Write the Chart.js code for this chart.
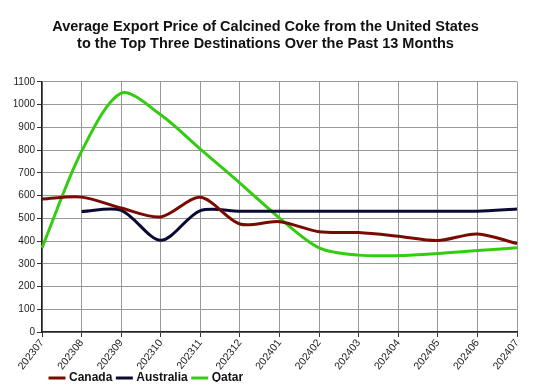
<!DOCTYPE html>
<html><head><meta charset="utf-8">
<script src="https://cdn.jsdelivr.net/npm/chart.js@4"></script>
<style>html,body{margin:0;padding:0;background:#fff}#wrap{width:550px;height:387px}</style>
</head><body><div id="wrap"><canvas id="c"></canvas></div>
<script>
const months = ["202307","202308","202309","202310","202311","202312","202401","202402","202403","202404","202405","202406","202407"];
const canada = [585,593,545,506,592,475,485,441,437,421,402,431,389];
const australia = [null,530,535,403,534,531,531,531,531,531,531,531,541];
const qatar = [370,794,1050,955,804,655,501,370,338,336,345,358,370];
const yTicks = [0,100,200,300,400,500,600,700,800,900,1000,1100];

const legendFix = {
  id:'legendFix',
  beforeLayout(chart){
    const lg = chart.legend;
    if (lg && !lg._wrapped) {
      const f = lg.fit.bind(lg);
      lg.fit = function(){ f(); this.height = 16; };
      lg._wrapped = true;
    }
  },
  beforeDraw(chart){
    const lg = chart.legend;
    if (!lg || lg._shifted) return;
    lg.left += 31; lg.right += 31; lg.top -= 5; lg.bottom -= 5;
    lg._shifted = true;
  }
};

new Chart(document.getElementById('c'), {
  type: 'line',
  data: {
    labels: months,
    datasets: [
      {label:'Canada', data:canada, borderColor:'#7a0a00', backgroundColor:'#7a0a00', borderWidth:3, pointRadius:0, tension:0.3},
      {label:'Australia', data:australia, borderColor:'#0a0a33', backgroundColor:'#0a0a33', borderWidth:3, pointRadius:0, tension:0.3},
      {label:'Qatar', data:qatar, borderColor:'#33cc11', backgroundColor:'#33cc11', borderWidth:3, pointRadius:0, tension:0.3}
    ]
  },
  options: {
    responsive:true, maintainAspectRatio:false, animation:false,
    layout:{padding:{left:14,right:33,top:0,bottom:0}},
    plugins:{
      title:{display:true, text:['Average Export Price of Calcined Coke from the United States','to the Top Three Destinations Over the Past 13 Months'],
        font:{family:'Liberation Sans', size:14.5, weight:'bold'}, color:'#111', padding:{top:18,bottom:29}, lineHeight:1.4},
      legend:{position:'bottom', align:'start',
        labels:{usePointStyle:true, pointStyle:'line', boxWidth:22, color:'#111', padding:6,
          font:{family:'Liberation Sans', size:12, weight:'bold'}}},
      tooltip:{enabled:false}
    },
    scales:{
      x:{grid:{color:'#999', tickLength:5, tickColor:'#333'}, border:{color:'#222', width:1.5},
        ticks:{minRotation:52, maxRotation:52, color:'#222', font:{family:'Liberation Sans', size:10.5}, padding:0},
        afterFit:(s)=>{s.height=39;}},
      y:{min:0, max:1100, afterBuildTicks:(s)=>{s.ticks = yTicks.map(v=>({value:v}));},
        grid:{color:'#999', tickLength:5, tickColor:'#333'}, border:{color:'#222', width:1.5},
        ticks:{color:'#222', font:{family:'Liberation Sans', size:10}, padding:2, callback:(v)=>String(v)},
        afterFit:(s)=>{s.width=28;}}
    }
  },
  plugins:[legendFix]
});
</script></body></html>
